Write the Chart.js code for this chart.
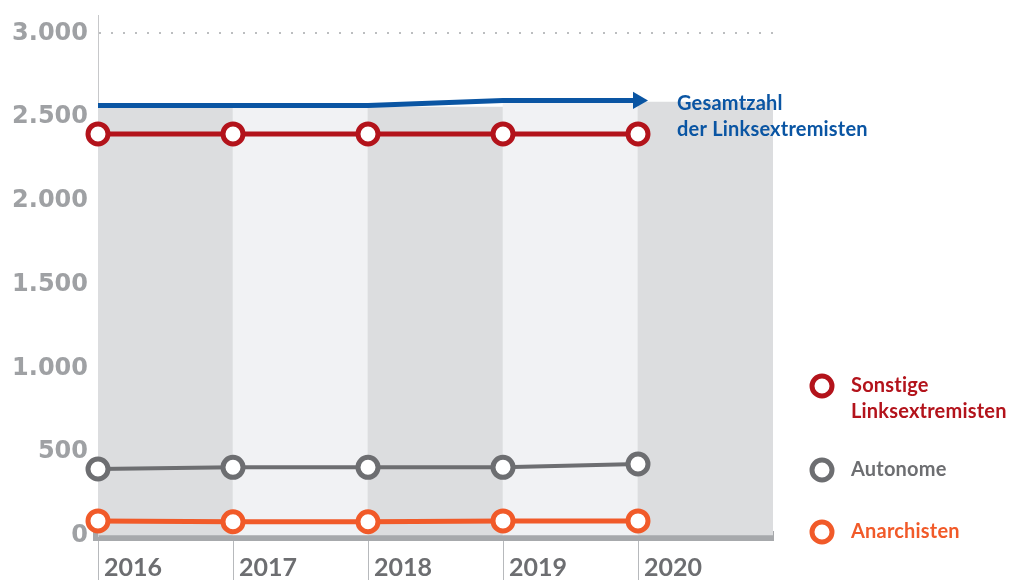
<!DOCTYPE html>
<html>
<head>
<meta charset="utf-8">
<script src="https://cdn.jsdelivr.net/npm/chart.js@4/dist/chart.umd.min.js"></script>
<style>
  body { margin: 0; background: #fff; }
  canvas { display: block; }
</style>
</head>
<body>
<canvas id="grafico" width="1024" height="580"></canvas>
<script>
// Daten
const jahre = [2016, 2017, 2018, 2019, 2020];
const gesamt = [2570, 2570, 2570, 2600, 2600];
const flaeche = [2560, 2560, 2560, 2590, 2590];
const sonstige = [2400, 2400, 2400, 2400, 2400];
const autonome = [400, 410, 410, 410, 430];
const anarchisten = [90, 85, 85, 90, 90];
const yTicks = [0, 500, 1000, 1500, 2000, 2500, 3000];

const blau = "#0a55a3";
const rot = "#b3131b";
const grau = "#6d6e71";
const orange = "#f15a29";

const punkte = (werte) => werte.map((v, i) => ({ x: jahre[i], y: v }));

const kreis = (farbe, breite) => ({
  borderColor: farbe,
  borderWidth: breite,
  pointRadius: 10,
  pointBorderWidth: 5,
  pointBackgroundColor: "#ffffff",
  pointBorderColor: farbe,
  pointHoverRadius: 10,
  tension: 0,
  xAxisID: "x",
  fill: false,
  clip: false,
});

// Legende rechts + Beschriftung der Gesamtzahl
const beschriftung = {
  id: "beschriftung",
  afterDraw(chart) {
    const ctx = chart.ctx;
    ctx.save();
    ctx.font = "bold 20px Lato";
    ctx.letterSpacing = "0.2px";
    ctx.textBaseline = "middle";
    ctx.textAlign = "left";

    ctx.fillStyle = blau;
    ctx.fillText("Gesamtzahl", 677, 104);
    ctx.fillText("der Linksextremisten", 677, 130);

    const eintraege = [
      { farbe: rot, zeilen: ["Sonstige", "Linksextremisten"], y: 386 },
      { farbe: grau, zeilen: ["Autonome"], y: 470 },
      { farbe: orange, zeilen: ["Anarchisten"], y: 532 },
    ];
    eintraege.forEach((e) => {
      ctx.beginPath();
      ctx.arc(822, e.y, 10, 0, Math.PI * 2);
      ctx.fillStyle = "#fff";
      ctx.fill();
      ctx.lineWidth = 5;
      ctx.strokeStyle = e.farbe;
      ctx.stroke();
      ctx.fillStyle = e.farbe;
      e.zeilen.forEach((z, i) => ctx.fillText(z, 851, e.y + i * 26));
    });
    ctx.restore();
  },
};

const config = {
  type: "line",
  data: {
    datasets: [
      {
        label: "Gesamtzahl der Linksextremisten",
        data: punkte(gesamt),
        borderColor: blau,
        borderWidth: 5,
        pointStyle: "triangle",
        pointRotation: 90,
        pointRadius: [0, 0, 0, 0, 10],
        pointHoverRadius: [0, 0, 0, 0, 10],
        pointBorderWidth: 0,
        pointBackgroundColor: blau,
        tension: 0,
        fill: false,
        clip: false,
        xAxisID: "x",
        order: 1,
      },
      { label: "Sonstige Linksextremisten", data: punkte(sonstige), ...kreis(rot, 5), order: 0 },
      { label: "Autonome", data: punkte(autonome), ...kreis(grau, 4), order: 0 },
      { label: "Anarchisten", data: punkte(anarchisten), ...kreis(orange, 5), order: 0 },
      {
        type: "bar",
        label: "Flaeche",
        data: flaeche,
        xAxisID: "xb",
        backgroundColor: jahre.map((j, i) => (i % 2 === 0 ? "#dcdddf" : "#f1f2f4")),
        borderWidth: 0,
        grouped: false,
        barPercentage: 1,
        categoryPercentage: 1,
        order: 5,
      },
    ],
  },
  options: {
    responsive: false,
    animation: false,
    layout: { padding: { top: 6, right: 251, left: 0, bottom: 0 } },
    plugins: {
      legend: { display: false },
      tooltip: { enabled: false },
    },
    scales: {
      xb: {
        type: "category",
        labels: jahre.map(String),
        offset: true,
        display: false,
      },
      x: {
        type: "linear",
        position: "bottom",
        min: 2016,
        max: 2021,
        z: 1,
        afterFit(axis) {
          axis.height = 44;
          axis.paddingLeft = 0;
          axis.paddingRight = 0;
        },
        border: { display: true, color: "#a7a9ac", width: 10 },
        grid: {
          drawOnChartArea: false,
          drawTicks: true,
          tickLength: 44,
          tickWidth: 1,
          color: (c) => (c.tick && c.tick.value > 2020 ? "transparent" : "#b7b9bc"),
        },
        ticks: {
          stepSize: 1,
          align: "start",
          labelOffset: 6,
          padding: -27,
          color: grau,
          font: { family: "Lato", size: 25, weight: "bold" },
          callback: (v) => (jahre.includes(v) ? String(v) : null),
        },
      },
      y: {
        min: 0,
        max: 3110,
        afterBuildTicks(axis) {
          axis.ticks = yTicks.map((v) => ({ value: v }));
        },
        afterFit(axis) {
          axis.width = 98;
          axis.paddingTop = 0;
          axis.paddingBottom = 0;
        },
        border: { display: true, color: "#c7c8ca", width: 1, dash: [2, 10] },
        grid: {
          drawTicks: false,
          lineWidth: 2,
          color: (c) => (c.tick && c.tick.value === 3000 ? "#bcbec0" : "transparent"),
        },
        ticks: {
          padding: 10,
          color: "#9fa1a4",
          font: { family: "DejaVu Sans", size: 24, weight: "bold" },
          callback: (v) => v.toLocaleString("de-DE"),
        },
      },
    },
  },
  plugins: [beschriftung],
};

const grafico = new Chart(document.getElementById("grafico"), config);
</script>
</body>
</html>
